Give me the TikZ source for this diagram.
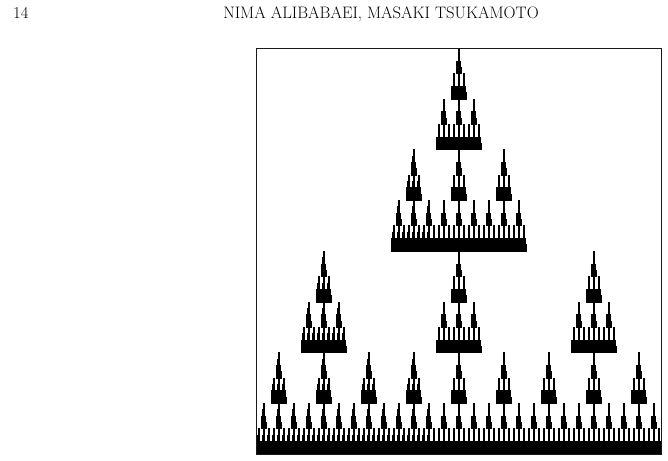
\documentclass[tikz,border=0pt]{standalone}
\usepackage{tikz}
\tikzset{
  frac/.style={fill=black, draw=black, line width=0.35pt},
  framebox/.style={draw=black!90, line width=0.9pt},
  headtext/.style={inner sep=0pt, font=\fontsize{16.6}{20}\selectfont}
}
\newcommand\frT[5]{%
  \ifnum#1=0\relax
    \path[frac] (#2,#3) rectangle ++(#4,#5);%
  \else
    \begingroup
    \pgfmathsetmacro\nw{#4/3}\pgfmathsetmacro\nh{#5/2}%
    \pgfmathsetmacro\xa{#2+\nw}\pgfmathsetmacro\xb{#2+2*\nw}%
    \pgfmathsetmacro\yb{#3+\nh}%
    \pgfmathtruncatemacro\nl{#1-1}%
    \edef\next{\noexpand\frT{\nl}{\xa}{#3}{\nw}{\nh}%
      \noexpand\frT{\nl}{#2}{\yb}{\nw}{\nh}%
      \noexpand\frT{\nl}{\xa}{\yb}{\nw}{\nh}%
      \noexpand\frT{\nl}{\xb}{\yb}{\nw}{\nh}}%
    \next
    \endgroup
  \fi}
\begin{document}
\begin{tikzpicture}[x=1pt,y=-1pt]
\useasboundingbox (0,0) rectangle (668,460);
\node[headtext, anchor=base west] (pagenum) at (13,19) {14};
\node[headtext, anchor=base] (authors) at (381,19) {NIMA ALIBABAEI, MASAKI TSUKAMOTO};
\frT{6}{256}{48}{405}{406}
\draw[framebox] (256,48) rectangle (661,454);
\end{tikzpicture}
\end{document}
